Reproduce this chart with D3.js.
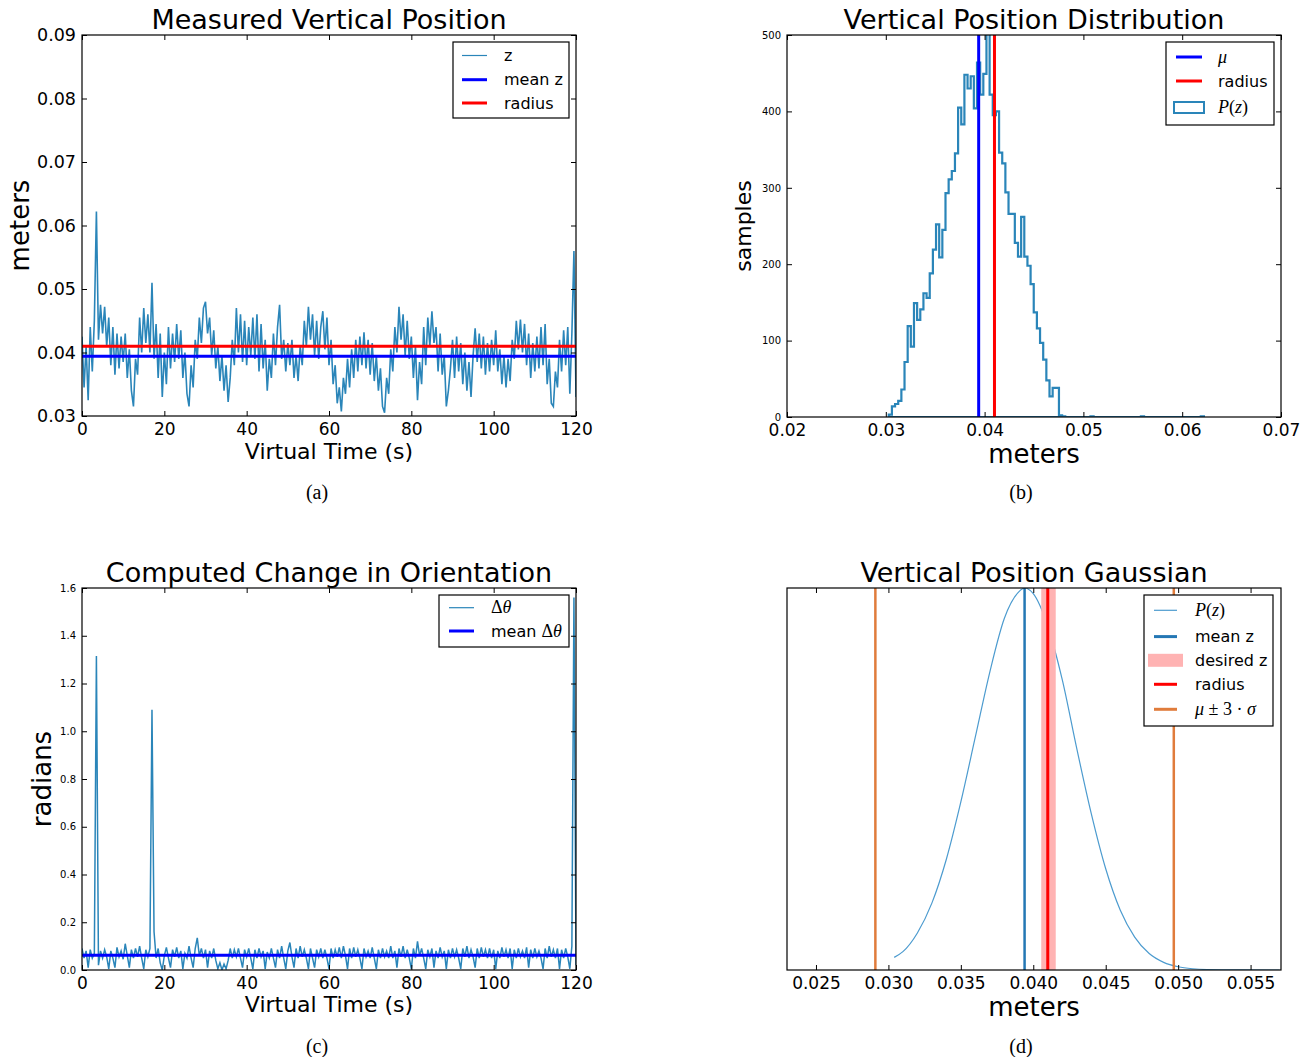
<!DOCTYPE html>
<html>
<head>
<meta charset="utf-8">
<script src="https://cdn.jsdelivr.net/npm/d3@7"></script>
<style>
  body { margin: 0; background: #fff; }
  text { font-family: "DejaVu Sans", sans-serif; }
</style>
</head>
<body>
<svg id="fig" width="1309" height="1057"></svg>
<script>
// ---- data ----

// (a) measured z (m), one reading every 0.5 s from 0 to 120 s
const zStep = 0.5;
const zValues = [
  0.0425,0.0345,0.0410,0.0325,0.0440,0.0370,0.0450,0.0622,0.0420,0.0475,
  0.0430,0.0472,0.0410,0.0455,0.0380,0.0440,0.0365,0.0430,0.0375,0.0425,
  0.0385,0.0430,0.0360,0.0405,0.0340,0.0315,0.0390,0.0365,0.0455,0.0400,
  0.0470,0.0415,0.0460,0.0400,0.0510,0.0390,0.0445,0.0360,0.0430,0.0330,
  0.0400,0.0350,0.0440,0.0375,0.0430,0.0385,0.0445,0.0390,0.0435,0.0360,
  0.0400,0.0335,0.0315,0.0380,0.0345,0.0420,0.0390,0.0455,0.0415,0.0470,
  0.0480,0.0430,0.0455,0.0395,0.0435,0.0375,0.0410,0.0355,0.0395,0.0340,
  0.0380,0.0322,0.0360,0.0420,0.0380,0.0470,0.0400,0.0460,0.0385,0.0450,
  0.0380,0.0440,0.0395,0.0455,0.0390,0.0460,0.0370,0.0445,0.0375,0.0420,
  0.0340,0.0390,0.0360,0.0430,0.0380,0.0440,0.0475,0.0390,0.0420,0.0370,
  0.0415,0.0380,0.0420,0.0360,0.0395,0.0355,0.0410,0.0380,0.0450,0.0410,
  0.0472,0.0420,0.0460,0.0395,0.0450,0.0390,0.0440,0.0465,0.0405,0.0455,
  0.0380,0.0420,0.0350,0.0380,0.0320,0.0345,0.0307,0.0360,0.0335,0.0390,
  0.0345,0.0405,0.0360,0.0420,0.0370,0.0425,0.0380,0.0432,0.0375,0.0420,
  0.0365,0.0415,0.0355,0.0395,0.0340,0.0375,0.0315,0.0305,0.0360,0.0335,
  0.0405,0.0370,0.0440,0.0400,0.0472,0.0420,0.0460,0.0395,0.0450,0.0390,
  0.0425,0.0360,0.0410,0.0325,0.0385,0.0350,0.0440,0.0380,0.0455,0.0410,
  0.0465,0.0415,0.0440,0.0370,0.0430,0.0365,0.0395,0.0315,0.0340,0.0375,
  0.0420,0.0360,0.0425,0.0370,0.0415,0.0350,0.0400,0.0340,0.0385,0.0330,
  0.0395,0.0438,0.0385,0.0430,0.0375,0.0425,0.0365,0.0415,0.0370,0.0420,
  0.0380,0.0435,0.0370,0.0405,0.0350,0.0395,0.0345,0.0390,0.0355,0.0420,
  0.0390,0.0450,0.0405,0.0452,0.0400,0.0445,0.0380,0.0430,0.0360,0.0415,
  0.0370,0.0425,0.0375,0.0440,0.0380,0.0445,0.0350,0.0390,0.0320,0.0315,
  0.0370,0.0345,0.0420,0.0370,0.0435,0.0380,0.0440,0.0335,0.0430,0.0560,
  0.0330
];
const meanZ = 0.0394;
const radius = 0.041;
const desiredZ = [0.04055, 0.04155];
const sigma3 = [0.0291, 0.0497];

// (b) histogram of z: 100 bins between the min and max sample
const binLo = 0.0303;
const binHi = 0.0622;
const binCounts = [
  3,14,17,21,36,72,119,92,149,127,
  141,162,156,188,219,252,209,245,293,311,
  322,345,405,383,448,430,446,404,464,422,
  449,512,422,395,400,346,332,294,266,266,
  228,210,262,210,198,174,137,116,97,75,
  48,27,38,38,2,1,0,0,0,0,
  0,0,0,0,1,0,0,0,0,0,
  0,0,0,0,0,0,0,0,0,0,
  1,0,0,0,0,0,0,0,0,0,
  0,0,0,0,0,0,0,0,0,1
];

// (c) change in orientation (rad), every 0.5 s
const dThetaStep = 0.5;
const dThetaValues = [
  0.09,0.05,0.08,0.01,0.085,0.05,0.07,1.315,0.02,0.08,
  0.05,0.085,0.055,0.005,0.08,0.05,0.01,0.095,0.055,0.08,
  0.045,0.11,0.06,0.01,0.085,0.05,0.09,0.055,0.1,0.05,
  0.005,0.085,0.055,0.09,1.09,0.16,0.05,0.09,0.03,0.0,
  0.06,0.095,0.05,0.01,0.085,0.055,0.095,0.05,0.08,0.005,
  0.07,0.05,0.1,0.05,0.01,0.09,0.135,0.06,0.09,0.05,
  0.085,0.01,0.08,0.05,0.09,0.04,0.005,0.03,0.0,0.025,
  0.005,0.04,0.09,0.05,0.085,0.055,0.09,0.05,0.01,0.085,
  0.055,0.09,0.05,0.005,0.085,0.05,0.09,0.055,0.08,0.005,
  0.075,0.05,0.09,0.05,0.01,0.085,0.05,0.1,0.05,0.005,
  0.08,0.115,0.055,0.01,0.09,0.05,0.1,0.055,0.085,0.05,
  0.005,0.09,0.05,0.01,0.085,0.055,0.09,0.05,0.085,0.05,
  0.005,0.09,0.05,0.085,0.055,0.095,0.05,0.1,0.06,0.005,
  0.09,0.05,0.095,0.055,0.085,0.05,0.005,0.09,0.055,0.08,
  0.05,0.095,0.05,0.005,0.085,0.05,0.09,0.055,0.08,0.05,
  0.1,0.05,0.08,0.01,0.09,0.055,0.1,0.05,0.085,0.05,
  0.005,0.09,0.05,0.12,0.06,0.09,0.05,0.005,0.085,0.055,
  0.09,0.01,0.08,0.05,0.095,0.055,0.08,0.005,0.085,0.05,
  0.09,0.055,0.085,0.05,0.005,0.09,0.055,0.1,0.05,0.085,
  0.055,0.01,0.09,0.05,0.095,0.055,0.085,0.05,0.09,0.05,
  0.085,0.005,0.08,0.05,0.095,0.055,0.085,0.05,0.09,0.005,
  0.085,0.05,0.09,0.055,0.08,0.05,0.095,0.01,0.085,0.05,
  0.09,0.055,0.08,0.05,0.005,0.09,0.05,0.1,0.055,0.085,
  0.05,0.09,0.005,0.085,0.05,0.09,0.055,0.005,0.1,1.56,
  0.02
];
const meanDTheta = 0.062;

// (d) gaussian P(z), relative height
const gaussZ = [0.0304,0.031,0.032,0.033,0.034,0.035,0.036,0.037,0.038,0.039,0.0394,
  0.040,0.041,0.042,0.043,0.044,0.045,0.046,0.047,0.048,0.049,0.050,0.051,0.052,0.054,0.057];
const gaussP = [0.033,0.048,0.097,0.175,0.29,0.44,0.61,0.78,0.92,0.99,1.0,
  0.985,0.90,0.76,0.58,0.41,0.265,0.157,0.086,0.043,0.020,0.0085,0.0033,0.0012,0.0001,0.0];

// tick values
const timeTicks = [0, 20, 40, 60, 80, 100, 120];
const zTicks = [0.03, 0.04, 0.05, 0.06, 0.07, 0.08, 0.09];
const histXTicks = [0.02, 0.03, 0.04, 0.05, 0.06, 0.07];
const histYTicks = [0, 100, 200, 300, 400, 500];
const radTicks = [0, 0.2, 0.4, 0.6, 0.8, 1.0, 1.2, 1.4, 1.6];
const gaussXTicks = [0.025, 0.030, 0.035, 0.040, 0.045, 0.050, 0.055];

// ---- drawing ----
const svg = d3.select("#fig");
const traceColor = "#2a85b9";
const SERIF = "'Liberation Serif', 'DejaVu Serif', serif";

let clipId = 0;
function panel(cfg) {
  const b = cfg.box;
  const x = d3.scaleLinear().domain(cfg.xDomain).range([b.left, b.right]);
  const y = d3.scaleLinear().domain(cfg.yDomain).range([b.bottom, b.top]);

  const id = "clip" + (clipId++);
  svg.append("clipPath").attr("id", id).append("rect")
    .attr("x", b.left).attr("y", b.top)
    .attr("width", b.right - b.left).attr("height", b.bottom - b.top);
  const plot = svg.append("g").attr("clip-path", `url(#${id})`);

  // bottom / top
  const gx = svg.append("g")
    .attr("transform", `translate(0,${b.bottom})`)
    .call(d3.axisBottom(x).tickValues(cfg.xTicks).tickFormat(cfg.xFmt)
      .tickSizeInner(-5).tickSizeOuter(0).tickPadding(7));
  gx.selectAll("text").style("font-size", "17px");
  svg.append("g")
    .attr("transform", `translate(0,${b.top})`)
    .call(d3.axisTop(x).tickValues(cfg.xTicks).tickFormat("")
      .tickSizeInner(-5).tickSizeOuter(0));

  // left / right
  if (cfg.yTicks) {
    const gy = svg.append("g")
      .attr("transform", `translate(${b.left},0)`)
      .call(d3.axisLeft(y).tickValues(cfg.yTicks).tickFormat(cfg.yFmt)
        .tickSizeInner(-5).tickSizeOuter(0).tickPadding(6));
    gy.selectAll("text").style("font-size", cfg.yFont + "px");
    svg.append("g")
      .attr("transform", `translate(${b.right},0)`)
      .call(d3.axisRight(y).tickValues(cfg.yTicks).tickFormat("")
        .tickSizeInner(-5).tickSizeOuter(0));
  }
  svg.selectAll(".domain").remove();
  svg.selectAll(".tick line").attr("stroke", "#000");
  svg.selectAll(".tick text").attr("fill", "#000").attr("font-family", "DejaVu Sans");

  const cx = (b.left + b.right) / 2;
  svg.append("text").attr("x", cx).attr("y", b.top - 6)
    .attr("text-anchor", "middle").style("font-size", "27px").text(cfg.title);
  svg.append("text").attr("x", cx).attr("y", cfg.xLabelY)
    .attr("text-anchor", "middle").style("font-size", cfg.xLabelSize + "px").text(cfg.xLabel);
  if (cfg.yLabel) {
    const cy = (b.top + b.bottom) / 2;
    svg.append("text")
      .attr("transform", `translate(${cfg.yLabelX},${cy}) rotate(-90)`)
      .attr("text-anchor", "middle").style("font-size", cfg.yLabelSize + "px").text(cfg.yLabel);
  }
  svg.append("text").attr("x", cfg.caption[1]).attr("y", cfg.caption[2])
    .attr("text-anchor", "middle").style("font-family", SERIF).style("font-size", "20px")
    .text(cfg.caption[0]);

  return { x, y, plot, box: b };
}

function frame(p) {
  const b = p.box;
  svg.append("rect").attr("x", b.left).attr("y", b.top)
    .attr("width", b.right - b.left).attr("height", b.bottom - b.top)
    .attr("fill", "none").attr("stroke", "#000").attr("stroke-width", 1.2);
}

// label parts: [text, "s" sans | "i" serif italic | "m" serif upright]
function richText(sel, parts, size) {
  parts.forEach(([t, kind]) => {
    const ts = sel.append("tspan").text(t);
    if (kind === "i") ts.style("font-family", SERIF).style("font-style", "italic").style("font-size", (size + 2) + "px");
    if (kind === "m") ts.style("font-family", SERIF).style("font-size", (size + 2) + "px");
  });
}

function legend(box, lineX, textX, rows, items) {
  const g = svg.append("g");
  g.append("rect").attr("x", box[0]).attr("y", box[1])
    .attr("width", box[2] - box[0]).attr("height", box[3] - box[1])
    .attr("fill", "#fff").attr("stroke", "#000").attr("stroke-width", 1.2);
  items.forEach((it, i) => {
    const cy = rows[i];
    if (it.kind === "line") {
      g.append("line").attr("x1", lineX[0]).attr("x2", lineX[1]).attr("y1", cy).attr("y2", cy)
        .attr("stroke", it.color).attr("stroke-width", it.width);
    } else if (it.kind === "outline") {
      g.append("rect").attr("x", it.rect[0]).attr("y", cy - it.rect[2] / 2)
        .attr("width", it.rect[1] - it.rect[0]).attr("height", it.rect[2])
        .attr("fill", "none").attr("stroke", it.color).attr("stroke-width", 2);
    } else {
      g.append("rect").attr("x", it.rect[0]).attr("y", cy - it.rect[2] / 2)
        .attr("width", it.rect[1] - it.rect[0]).attr("height", it.rect[2])
        .attr("fill", it.color);
    }
    const t = g.append("text").attr("x", textX).attr("y", cy).attr("dy", "0.36em").style("font-size", "16px");
    richText(t, it.label, 16);
  });
}

// ===== (a) Measured Vertical Position =====
const pa = panel({
  box: { left: 82, right: 576, top: 35, bottom: 416 },
  xDomain: [0, 120], yDomain: [0.03, 0.09],
  xTicks: timeTicks, xFmt: d3.format("d"),
  yTicks: zTicks, yFmt: d3.format(".2f"), yFont: 17.5,
  title: "Measured Vertical Position",
  xLabel: "Virtual Time (s)", xLabelSize: 22, xLabelY: 459,
  yLabel: "meters", yLabelSize: 26, yLabelX: 29,
  caption: ["(a)", 317, 499]
});
pa.plot.append("path")
  .datum(zValues)
  .attr("d", d3.line().x((d, i) => pa.x(i * zStep)).y(d => pa.y(d)))
  .attr("fill", "none").attr("stroke", traceColor).attr("stroke-width", 1.6);
[[meanZ, "#0000ff"], [radius, "#ff0000"]].forEach(([v, c]) => {
  pa.plot.append("line").attr("x1", pa.x(0)).attr("x2", pa.x(120))
    .attr("y1", pa.y(v)).attr("y2", pa.y(v)).attr("stroke", c).attr("stroke-width", 3);
});
frame(pa);
legend([453, 42, 569, 118], [462, 487], 504, [55.5, 79.7, 103], [
  { kind: "line", color: traceColor, width: 1.2, label: [["z", "s"]] },
  { kind: "line", color: "#0000ff", width: 3, label: [["mean z", "s"]] },
  { kind: "line", color: "#ff0000", width: 3, label: [["radius", "s"]] }
]);

// ===== (b) Vertical Position Distribution =====
const pb = panel({
  box: { left: 787, right: 1281, top: 35, bottom: 417 },
  xDomain: [0.02, 0.07], yDomain: [0, 500],
  xTicks: histXTicks, xFmt: d3.format(".2f"),
  yTicks: histYTicks, yFmt: d3.format("d"), yFont: 10,
  title: "Vertical Position Distribution",
  xLabel: "meters", xLabelSize: 26, xLabelY: 463,
  yLabel: "samples", yLabelSize: 22, yLabelX: 751,
  caption: ["(b)", 1021, 499]
});
const edges = d3.range(binCounts.length + 1).map(i => binLo + i * (binHi - binLo) / binCounts.length);
const stepPts = [[edges[0], 0]];
binCounts.forEach((c, i) => { stepPts.push([edges[i], c], [edges[i + 1], c]); });
stepPts.push([edges[edges.length - 1], 0]);
pb.plot.append("path")
  .attr("d", d3.line().x(d => pb.x(d[0])).y(d => pb.y(d[1]))(stepPts) + "Z")
  .attr("fill", "none").attr("stroke", traceColor).attr("stroke-width", 2.2)
  .attr("stroke-linejoin", "miter");
[[meanZ, "#0000ff"], [radius, "#ff0000"]].forEach(([v, c]) => {
  pb.plot.append("line").attr("x1", pb.x(v)).attr("x2", pb.x(v))
    .attr("y1", pb.y(0)).attr("y2", pb.y(500)).attr("stroke", c).attr("stroke-width", 3);
});
frame(pb);
legend([1166, 42, 1274, 125], [1176, 1202], 1218, [57, 81, 107.5], [
  { kind: "line", color: "#0000ff", width: 3, label: [["\u03bc", "i"]] },
  { kind: "line", color: "#ff0000", width: 3, label: [["radius", "s"]] },
  { kind: "outline", color: traceColor, rect: [1174, 1204, 11], label: [["P", "i"], ["(", "m"], ["z", "i"], [")", "m"]] }
]);

// ===== (c) Computed Change in Orientation =====
const pc = panel({
  box: { left: 82, right: 576, top: 588, bottom: 970 },
  xDomain: [0, 120], yDomain: [0, 1.6],
  xTicks: timeTicks, xFmt: d3.format("d"),
  yTicks: radTicks, yFmt: d3.format(".1f"), yFont: 10,
  title: "Computed Change in Orientation",
  xLabel: "Virtual Time (s)", xLabelSize: 22, xLabelY: 1012,
  yLabel: "radians", yLabelSize: 26, yLabelX: 51,
  caption: ["(c)", 317, 1053]
});
pc.plot.append("path")
  .datum(dThetaValues)
  .attr("d", d3.line().x((d, i) => pc.x(i * dThetaStep)).y(d => pc.y(d)))
  .attr("fill", "none").attr("stroke", traceColor).attr("stroke-width", 1.5);
pc.plot.append("line").attr("x1", pc.x(0)).attr("x2", pc.x(120))
  .attr("y1", pc.y(meanDTheta)).attr("y2", pc.y(meanDTheta))
  .attr("stroke", "#0000ff").attr("stroke-width", 3);
frame(pc);
legend([439, 595, 569, 647], [449, 474], 491, [607.7, 631], [
  { kind: "line", color: traceColor, width: 1.2, label: [["\u0394", "m"], ["\u03b8", "i"]] },
  { kind: "line", color: "#0000ff", width: 3, label: [["mean ", "s"], ["\u0394", "m"], ["\u03b8", "i"]] }
]);

// ===== (d) Vertical Position Gaussian =====
const pd = panel({
  box: { left: 787, right: 1281, top: 588, bottom: 970 },
  xDomain: [0.023, 0.0571], yDomain: [0, 1],
  xTicks: gaussXTicks, xFmt: d3.format(".3f"),
  yTicks: null,
  title: "Vertical Position Gaussian",
  xLabel: "meters", xLabelSize: 26, xLabelY: 1016,
  yLabel: null,
  caption: ["(d)", 1021, 1053]
});
const gaussColor = "#4c9bcf";
pd.plot.append("path")
  .datum(gaussZ.map((z, i) => [z, gaussP[i]]))
  .attr("d", d3.line().x(d => pd.x(d[0])).y(d => pd.y(d[1])).curve(d3.curveMonotoneX))
  .attr("fill", "none").attr("stroke", gaussColor).attr("stroke-width", 1.2);
const vline = (v, c, w) => pd.plot.append("line").attr("x1", pd.x(v)).attr("x2", pd.x(v))
  .attr("y1", pd.y(0)).attr("y2", pd.y(1)).attr("stroke", c).attr("stroke-width", w);
vline(meanZ, "#2477b4", 2.5);
pd.plot.append("rect").attr("x", pd.x(desiredZ[0])).attr("y", pd.y(1))
  .attr("width", pd.x(desiredZ[1]) - pd.x(desiredZ[0])).attr("height", pd.y(0) - pd.y(1))
  .attr("fill", "#ffb3b3");
vline(radius, "#ff0000", 3);
vline(sigma3[0], "#e07c3c", 2.5);
vline(sigma3[1], "#e07c3c", 2.5);
frame(pd);
legend([1144, 595, 1273, 726], [1154, 1177], 1195, [610.3, 636.6, 660.3, 684.3, 709.3], [
  { kind: "line", color: gaussColor, width: 1.2, label: [["P", "i"], ["(", "m"], ["z", "i"], [")", "m"]] },
  { kind: "line", color: "#2477b4", width: 3, label: [["mean z", "s"]] },
  { kind: "patch", color: "#ffb3b3", rect: [1148, 1183, 13], label: [["desired z", "s"]] },
  { kind: "line", color: "#ff0000", width: 3, label: [["radius", "s"]] },
  { kind: "line", color: "#e07c3c", width: 3, label: [["\u03bc", "i"], [" \u00b1 3 \u00b7 ", "m"], ["\u03c3", "i"]] }
]);
</script>
</body>
</html>
